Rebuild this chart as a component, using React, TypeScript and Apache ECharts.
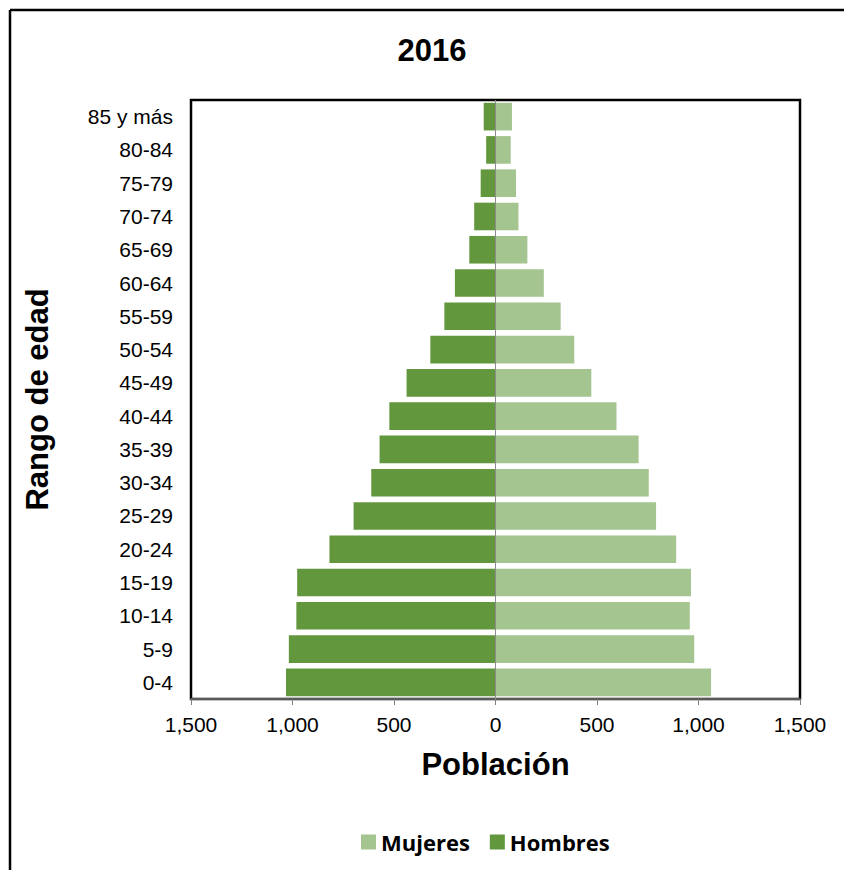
import React, { useEffect, useRef } from "react";
import * as echarts from "echarts";

const categories = ["0-4", "5-9", "10-14", "15-19", "20-24", "25-29", "30-34", "35-39", "40-44", "45-49", "50-54", "55-59", "60-64", "65-69", "70-74", "75-79", "80-84", "85 y más"];
const hombres = [1032, 1018, 981, 977, 818, 699, 612, 571, 523, 438, 321, 252, 200, 129, 105, 73, 46, 58];
const mujeres = [1062, 979, 957, 963, 890, 791, 755, 705, 596, 472, 388, 321, 238, 157, 113, 101, 75, 81];
const xTicks = { min: -1500, max: 1500, interval: 500 };
const title = "2016";
const xName = "Población";
const yName = "Rango de edad";

const fmt = (v: number) => Math.abs(v).toLocaleString("en-US");

export default function App() {
  const ref = useRef<HTMLDivElement>(null);
  useEffect(() => {
    document.body.style.margin = "0";
    const chart = echarts.init(ref.current!, null, { renderer: "svg" });
    const arial = "'Liberation Sans', Arial, sans-serif";
    chart.setOption({
      animation: false,
      backgroundColor: "#fff",
      grid: {
        left: 191,
        right: 44,
        top: 100,
        bottom: 171,
        show: true,
        borderColor: "#000",
        borderWidth: 2.5,
        containLabel: false,
      },
      legend: {
        data: ["Mujeres", "Hombres"],
        left: 356,
        top: 826,
        itemWidth: 15,
        itemHeight: 15,
        itemGap: 20,
        icon: "rect",
        textStyle: { fontFamily: "'Open Sans', sans-serif", fontWeight: "bold", fontSize: 22, color: "#000" },
      },
      xAxis: {
        type: "value",
        min: xTicks.min,
        max: xTicks.max,
        interval: xTicks.interval,
        splitLine: { show: false },
        axisLine: { show: true, onZero: false, lineStyle: { color: "#595959", width: 2 } },
        axisTick: { show: true, length: 6, lineStyle: { color: "#7f7f7f", width: 1 } },
        axisLabel: { formatter: fmt, fontSize: 21, color: "#000", fontFamily: arial, margin: 15 },
        name: xName,
        nameLocation: "middle",
        nameGap: 50,
        nameTextStyle: { fontSize: 31, fontWeight: "bold", color: "#000", fontFamily: arial },
      },
      yAxis: {
        type: "category",
        data: categories,
        axisLine: { show: false },
        axisTick: { show: false },
        axisLabel: { fontSize: 21, color: "#000", fontFamily: arial, margin: 18 },
        name: yName,
        nameLocation: "middle",
        nameGap: 138,
        nameRotate: 90,
        nameTextStyle: { fontSize: 31, fontWeight: "bold", color: "#000", fontFamily: arial },
      },
      series: [
        {
          name: "Hombres",
          type: "bar",
          data: hombres.map((v) => -v),
          barGap: "-100%",
          barCategoryGap: "17%",
          itemStyle: { color: "#63973D" },
        },
        {
          name: "Mujeres",
          type: "bar",
          data: mujeres,
          barGap: "-100%",
          barCategoryGap: "17%",
          itemStyle: { color: "#A4C490" },
          markLine: {
            silent: true,
            symbol: "none",
            label: { show: false },
            lineStyle: { color: "#8c8c8c", width: 1, type: "solid" },
            data: [{ xAxis: 0 }],
          },
        },
      ],
      graphic: [
        { type: "line", shape: { x1: 10, y1: 10, x2: 10, y2: 870 }, style: { stroke: "#000", lineWidth: 2.5 } },
        { type: "line", shape: { x1: 10, y1: 10, x2: 844, y2: 10 }, style: { stroke: "#000", lineWidth: 2.5 } },
        {
          type: "text",
          x: 432,
          y: 50,
          style: { text: title, fontSize: 31, fontWeight: "bold", fill: "#000", fontFamily: arial, align: "center", verticalAlign: "middle" },
        },
      ],
    });
    return () => chart.dispose();
  }, []);
  return <div ref={ref} style={{ width: 844, height: 870 }} />;
}
